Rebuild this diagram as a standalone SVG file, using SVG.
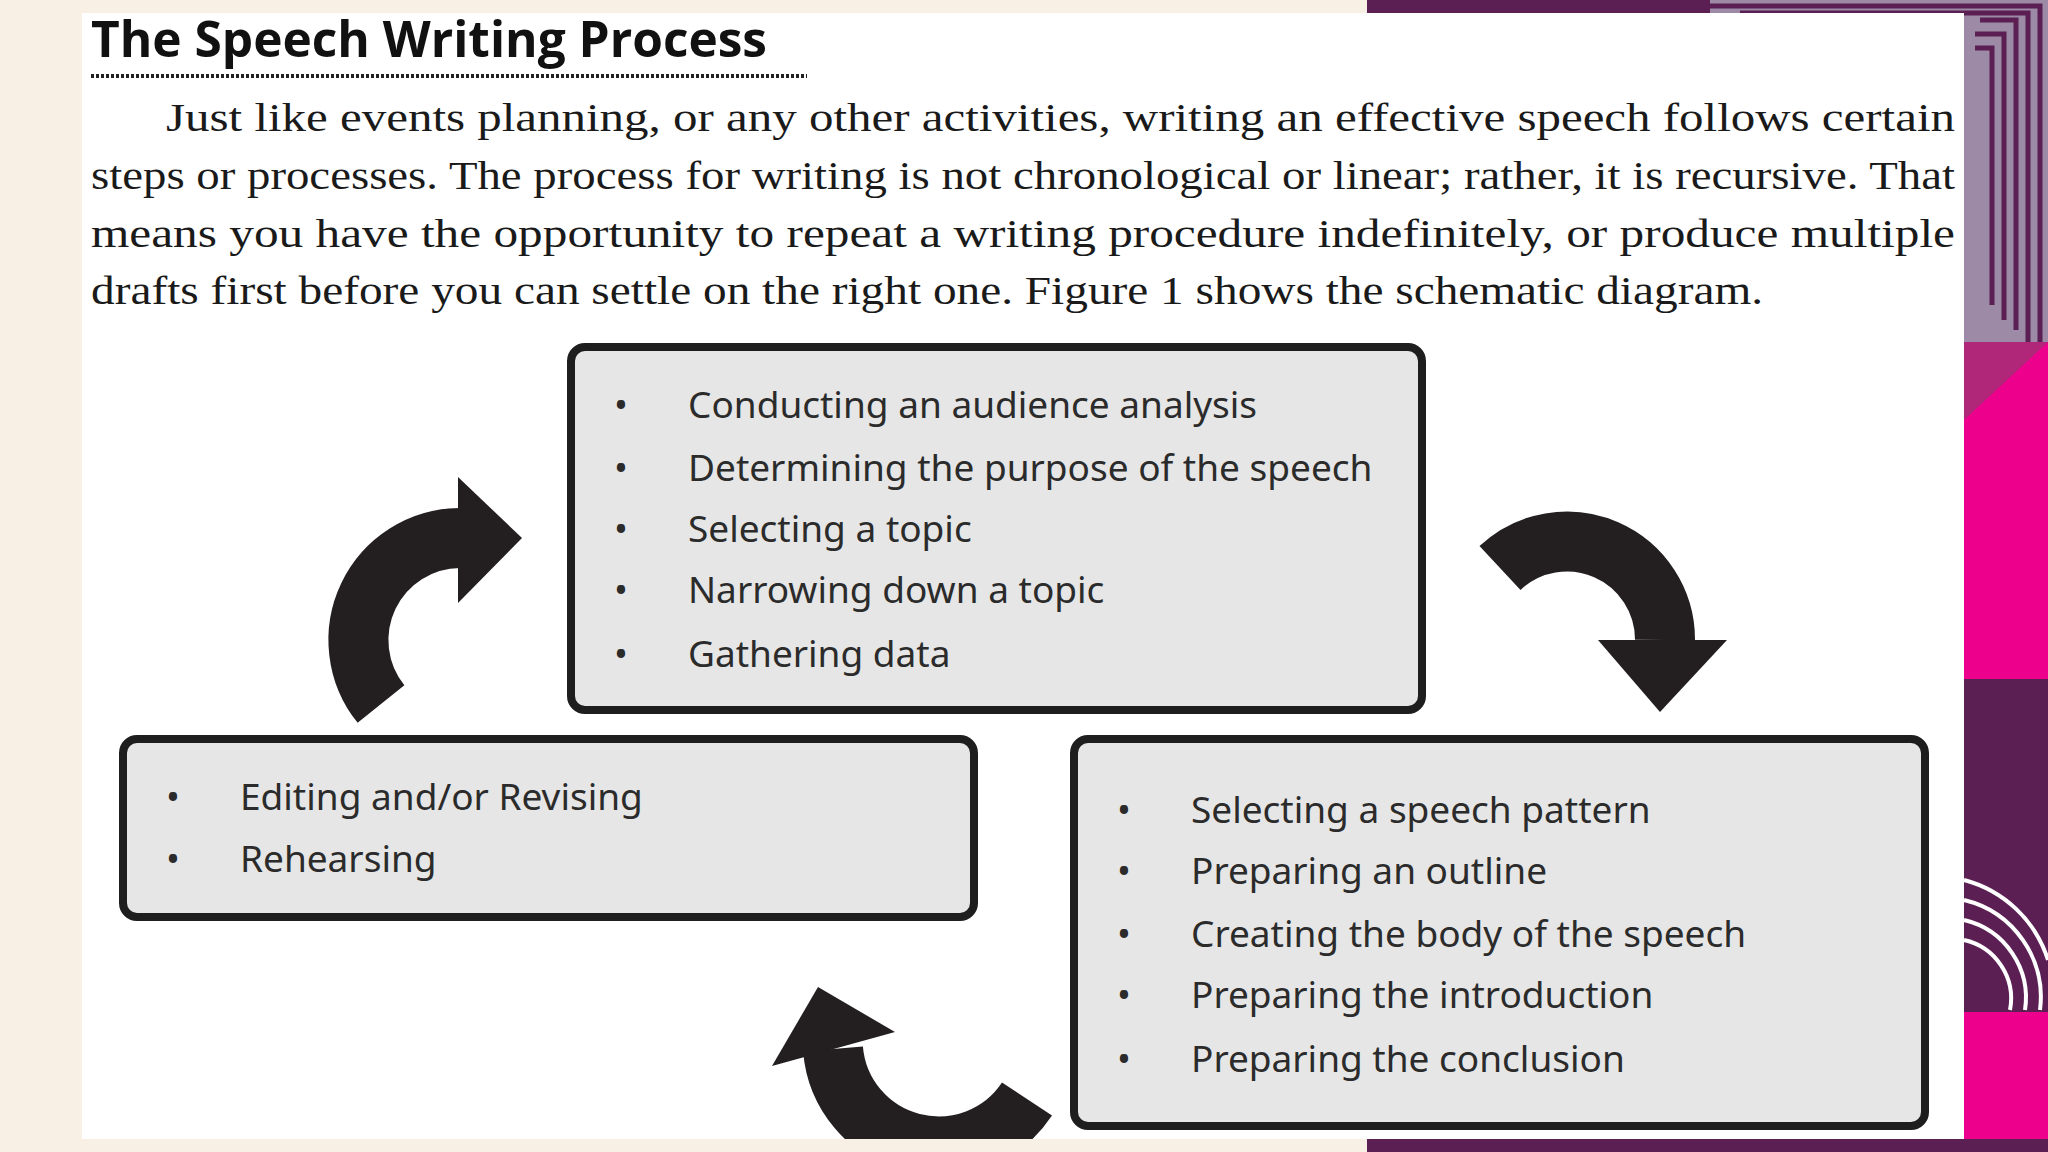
<svg xmlns="http://www.w3.org/2000/svg" width="2048" height="1152" viewBox="0 0 2048 1152">
<defs>
<style>
.box{fill:#e6e6e6;stroke:#1e1e1e;stroke-width:8}
.it{font-family:"Noto Sans","Open Sans",sans-serif;font-size:37px;fill:#2b2b2b}
.p{font-family:"Liberation Serif","DejaVu Serif",serif;font-size:40px;fill:#1a1a1a}
.arc{fill:none;stroke:#231f20;stroke-width:60}
.hd{fill:#231f20}
</style>
<clipPath id="pg"><rect x="82" y="13" width="1882" height="1126"/></clipPath>
</defs>
<rect width="2048" height="1152" fill="#f8efe5"/>
<rect x="1367" y="0" width="681" height="1152" fill="#5b1f53"/>
<rect x="1710" y="0" width="338" height="342" fill="#9c8aa6"/>
<g fill="none" stroke="#5b1f53" stroke-width="5">
<path d="M1710 6 H2040 V342"/><path d="M1740 13 H2028 V342"/><path d="M1980 20 H2016 V330"/><path d="M1975 34 H2004 V320"/><path d="M1975 48 H1992 V305"/>
</g>
<rect x="1964" y="342" width="84" height="337" fill="#ec008c"/>
<polygon points="1964,342 2048,342 1964,420" fill="#b0277a"/>
<rect x="1964" y="1012" width="84" height="140" fill="#ec008c"/>
<g fill="none" stroke="#fff" stroke-width="4">
<path d="M1964 880 A120 120 0 0 1 2048 960"/><path d="M1964 900 A100 100 0 0 1 2040 1010"/><path d="M1964 920 A80 80 0 0 1 2025 1010"/><path d="M1964 940 A60 60 0 0 1 2010 1010"/>
</g>
<rect x="1367" y="1139" width="681" height="13" fill="#5b1f53"/>
<rect x="82" y="13" width="1882" height="1126" fill="#fff"/>

<g id="title">
<text x="91" y="57" font-family="Open Sans,Noto Sans,sans-serif" font-weight="700" font-size="50" fill="#111" textLength="676" lengthAdjust="spacingAndGlyphs">The Speech Writing Process</text>
<line x1="91" y1="76" x2="807" y2="76" stroke="#222" stroke-width="4" stroke-dasharray="3 2"/>
</g>
<g id="paragraph" class="p">
<text x="166" y="131" textLength="1789" lengthAdjust="spacingAndGlyphs">Just like events planning, or any other activities, writing an effective speech follows certain</text>
<text x="91" y="189" textLength="1864" lengthAdjust="spacingAndGlyphs">steps or processes. The process for writing is not chronological or linear; rather, it is recursive. That</text>
<text x="91" y="247" textLength="1864" lengthAdjust="spacingAndGlyphs">means you have the opportunity to repeat a writing procedure indefinitely, or produce multiple</text>
<text x="91" y="304" textLength="1672" lengthAdjust="spacingAndGlyphs">drafts first before you can settle on the right one. Figure 1 shows the schematic diagram.</text>
</g>

<g id="connectors" clip-path="url(#pg)">
<path class="arc" d="M381 704 A102 102 0 0 1 460 538"/>
<polygon class="hd" points="458,477 522,538 458,603"/>
<path class="arc" d="M1500 568 A98 98 0 0 1 1665 640"/>
<polygon class="hd" points="1598,640 1727,640 1660,712"/>
<path class="arc" d="M1027 1099 A106 106 0 0 1 833 1049"/>
<polygon class="hd" points="772,1066 818,987 895,1032"/>
</g>

<g id="box-top">
<rect class="box" x="571" y="347" width="851" height="363" rx="14"/>
<g class="it">
<text x="614" y="418">•</text><text x="688" y="418">Conducting an audience analysis</text>
<text x="614" y="481">•</text><text x="688" y="481">Determining the purpose of the speech</text>
<text x="614" y="542">•</text><text x="688" y="542">Selecting a topic</text>
<text x="614" y="603">•</text><text x="688" y="603">Narrowing down a topic</text>
<text x="614" y="667">•</text><text x="688" y="667">Gathering data</text>
</g>
</g>
<g id="box-left">
<rect class="box" x="123" y="739" width="851" height="178" rx="14"/>
<g class="it">
<text x="166" y="810">•</text><text x="240" y="810">Editing and/or Revising</text>
<text x="166" y="872">•</text><text x="240" y="872">Rehearsing</text>
</g>
</g>
<g id="box-right">
<rect class="box" x="1074" y="739" width="851" height="387" rx="14"/>
<g class="it">
<text x="1117" y="823">•</text><text x="1191" y="823">Selecting a speech pattern</text>
<text x="1117" y="884">•</text><text x="1191" y="884">Preparing an outline</text>
<text x="1117" y="947">•</text><text x="1191" y="947">Creating the body of the speech</text>
<text x="1117" y="1008">•</text><text x="1191" y="1008">Preparing the introduction</text>
<text x="1117" y="1072">•</text><text x="1191" y="1072">Preparing the conclusion</text>
</g>
</g>
</svg>
